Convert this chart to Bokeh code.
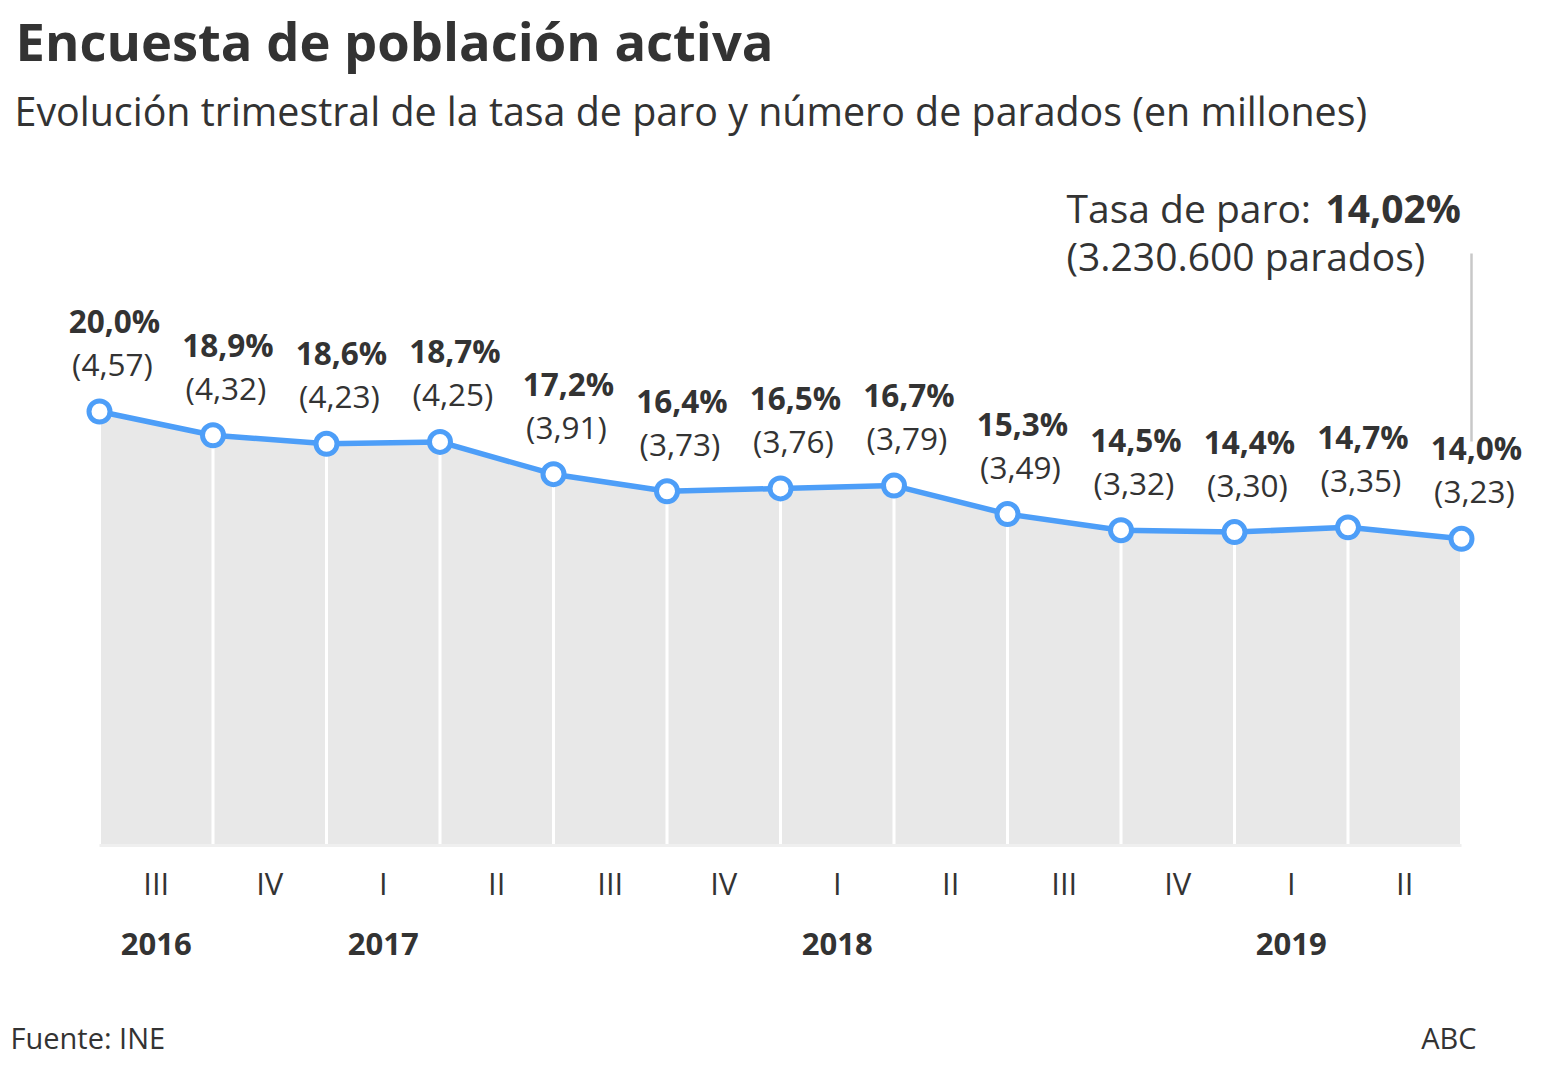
from bokeh.plotting import figure
from bokeh.models import ColumnDataSource, Range1d, Label
from bokeh.core.properties import value
from bokeh.embed import file_html
from bokeh.resources import INLINE

# ---- data ----
tasa_paro = [20.0, 18.9, 18.6, 18.7, 17.2, 16.4, 16.5, 16.7, 15.3, 14.5, 14.4, 14.7, 14.0]
parados_millones = [4.57, 4.32, 4.23, 4.25, 3.91, 3.73, 3.76, 3.79, 3.49, 3.32, 3.30, 3.35, 3.23]
trimestres = ["III", "IV", "I", "II", "III", "IV", "I", "II", "III", "IV", "I", "II"]
anios = ["2016", "2017", "2018", "2019"]
anio_trimestre_idx = [0, 2, 6, 10]

titulo = "Encuesta de población activa"
subtitulo = "Evolución trimestral de la tasa de paro y número de parados (en millones)"
ultimo_texto = "Tasa de paro: "
ultimo_valor = "14,02%"
ultimo_parados = "(3.230.600 parados)"
fuente = "Fuente: INE"
medio = "ABC"

# ---- scales (pixel geometry of the layout) ----
W, H = 1552, 1078
X0, DX = 99, 113.5          # pixel of first point, pixels per quarter
BASE = 845                  # pixel row of zero
K = (BASE - 411) / 4.57     # pixels per million


def X(px):
    return (px - X0) / DX


def Y(py):
    return (BASE - py) / K


FONT_NAME = "Open Sans"
FONT = value(FONT_NAME)
TXT = "#333333"
BLUE = "#4d9ef8"

p = figure(width=W, height=H, x_range=Range1d(X(0), X(W)), y_range=Range1d(Y(H), Y(0)),
           x_axis_type=None, y_axis_type=None, min_border=0,
           toolbar_location=None, output_backend="svg")
p.grid.visible = False
p.outline_line_color = None
p.background_fill_color = "white"
p.border_fill_color = "white"

n = len(tasa_paro)
xs = list(range(n))
src = ColumnDataSource(dict(
    x=xs,
    y=parados_millones,
    zero=[0] * n,
    pct=[f"{v:.1f}".replace(".", ",") + "%" for v in tasa_paro],
    par=["(" + f"{v:.2f}".replace(".", ",") + ")" for v in parados_millones],
))

# area
p.varea(x="x", y1="zero", y2="y", source=src, fill_color="#e8e8e8")
# white verticals
p.segment(x0="x", y0="zero", x1="x", y1="y", source=src, line_color="white", line_width=3)
# baseline
p.line(x=[0, n - 1], y=[0, 0], line_color="#efefef", line_width=3)
# line + markers
p.line(x="x", y="y", source=src, line_color=BLUE, line_width=5.5)
p.scatter(x="x", y="y", source=src, size=21, fill_color="white", line_color=BLUE, line_width=5)

# point labels
p.text(x="x", y="y", text="pct", source=src, x_offset=15, y_offset=-91,
       text_align="center", text_baseline="alphabetic", text_font=FONT,
       text_font_style="bold", text_font_size="31.5px", text_color=TXT)
p.text(x="x", y="y", text="par", source=src, x_offset=13, y_offset=-48,
       text_align="center", text_baseline="alphabetic", text_font=FONT,
       text_font_size="31.5px", text_color=TXT)

# quarter labels (between points)
qsrc = ColumnDataSource(dict(x=[i + 0.5 for i in range(len(trimestres))],
                             y=[Y(882)] * len(trimestres), t=trimestres))
p.text(x="x", y="y", text="t", source=qsrc, text_align="center", text_baseline="alphabetic",
       text_font=FONT, text_font_size="31px", text_color=TXT)

ysrc = ColumnDataSource(dict(x=[i + 0.5 for i in anio_trimestre_idx],
                             y=[Y(943)] * len(anios), t=anios))
p.text(x="x", y="y", text="t", source=ysrc, text_align="center", text_baseline="alphabetic",
       text_font=FONT, text_font_style="bold", text_font_size="31px", text_color=TXT)

# annotation line for latest value
p.segment(x0=[X(1471)], y0=[Y(441)], x1=[X(1471)], y1=[Y(253)], line_color="#c8c8c8", line_width=2.5)


def lab(px, py, text, size, bold=False, align="left"):
    p.add_layout(Label(x=X(px), y=Y(py), text=text, text_font=FONT_NAME, text_font_size=size,
                       text_font_style="bold" if bold else "normal", text_color=TXT,
                       text_align=align, text_baseline="alphabetic"))


lab(15, 40, titulo, "52.5px", bold=True)
lab(14, 110, subtitulo, "39.4px")
lab(1066, 207, ultimo_texto, "39px")
lab(1325, 207, ultimo_valor, "39px", bold=True)
lab(1066, 255, ultimo_parados, "39px")
lab(10, 1037, fuente, "29px")
lab(1476, 1037, medio, "29px", align="right")

open("out.html", "w").write(file_html(p, INLINE))
